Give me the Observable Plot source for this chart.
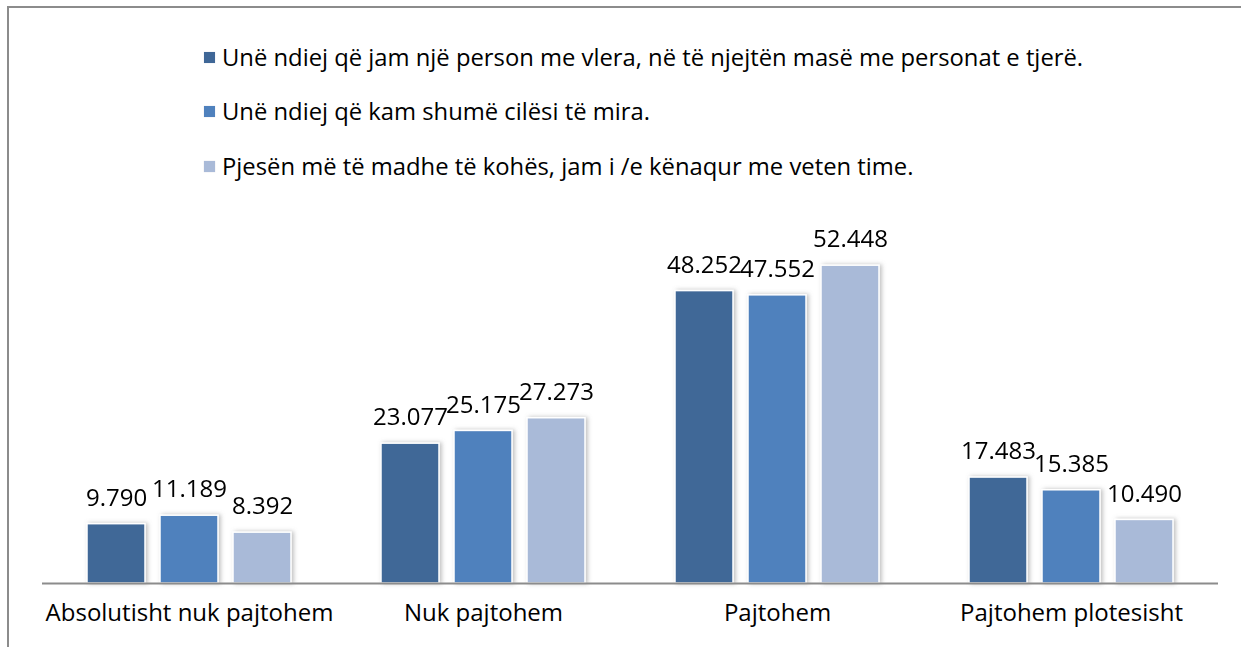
<!DOCTYPE html>
<html>
<head>
<meta charset="utf-8">
<script src="https://cdn.jsdelivr.net/npm/d3@7"></script>
<script src="https://cdn.jsdelivr.net/npm/@observablehq/plot@0.6"></script>
<style>
  body { margin: 0; background: #fff; }
  #wrap { position: relative; width: 1241px; height: 647px; overflow: hidden; font-family: "Open Sans", sans-serif; }
  #frame { position: absolute; left: 7px; top: 6px; width: 1300px; height: 700px; border-top: 2px solid #8c8c8c; border-left: 2px solid #8c8c8c; }
  #legend { position: absolute; left: 204px; top: 0; }
  .item { position: absolute; white-space: nowrap; font-size: 23.8px; color: #000; display: flex; align-items: center; }
  .sw { width: 11px; height: 11px; margin-right: 7px; box-shadow: 0 0 1px #ccd; }
  #chart { position: absolute; left: 0; top: 200px; }
</style>
</head>
<body>
<div id="wrap">
  <div id="frame"></div>
  <div id="legend"></div>
  <div id="chart"></div>
</div>
<script>
const categories = ["Absolutisht nuk pajtohem", "Nuk pajtohem", "Pajtohem", "Pajtohem plotesisht"];
const seriesNames = [
  "Unë ndiej që jam një person me vlera, në të njejtën masë me personat e tjerë.",
  "Unë ndiej që kam shumë cilësi të mira.",
  "Pjesën më të madhe të kohës, jam i /e kënaqur me veten time."
];
const series1 = [9.790, 23.077, 48.252, 17.483];
const series2 = [11.189, 25.175, 47.552, 15.385];
const series3 = [8.392, 27.273, 52.448, 10.490];
const colors = ["#3F6797", "#4F81BD", "#A9BAD8"];

const allSeries = [series1, series2, series3];
const data = [];
categories.forEach((c, i) => {
  allSeries.forEach((s, j) => data.push({category: c, series: seriesNames[j], value: s[i]}));
});

// legend
const legend = document.getElementById("legend");
const legendY = [57, 111, 166];
seriesNames.forEach((name, j) => {
  const d = document.createElement("div");
  d.className = "item";
  d.style.top = (legendY[j] - 15) + "px";
  d.style.height = "30px";
  d.innerHTML = `<span class="sw" style="background:${colors[j]}"></span><span>${name}</span>`;
  legend.appendChild(d);
});

const chart = Plot.plot({
  width: 1241,
  height: 447,
  marginLeft: 42,
  marginRight: 23,
  marginTop: 19.4,
  marginBottom: 64,
  style: {fontFamily: "Open Sans, sans-serif", fontSize: "24px", color: "#000", background: "transparent"},
  fx: {domain: categories, padding: 0, label: null, axis: "bottom", tickSize: 0, tickPadding: 20},
  x: {domain: seriesNames, paddingInner: 0.205, paddingOuter: 0.616, axis: null},
  y: {domain: [0, 60], axis: null},
  color: {domain: seriesNames, range: colors},
  marks: [
    Plot.barY(data, {fx: "category", x: "series", y: "value", fill: "series", stroke: "white", strokeWidth: 1.5}),
    Plot.ruleY([0], {stroke: "#8c8c8c", strokeWidth: 2}),
    Plot.text(data, {fx: "category", x: "series", y: "value", text: d => d.value.toFixed(3), dy: -26, lineAnchor: "middle", fill: "#000", fontSize: 24})
  ]
});
document.getElementById("chart").appendChild(chart);

// soft drop shadow on the bars
const svg = d3.select(chart.tagName.toLowerCase() === "svg" ? chart : chart.querySelector("svg"));
const defs = svg.insert("defs", ":first-child");
const f = defs.append("filter").attr("id", "barShadow").attr("x", "-20%").attr("y", "-20%").attr("width", "140%").attr("height", "140%");
f.append("feDropShadow").attr("dx", 2).attr("dy", 0).attr("stdDeviation", 2).attr("flood-color", "#7f7f7f").attr("flood-opacity", 0.5);
svg.selectAll('g[aria-label="bar"]').attr("filter", "url(#barShadow)");
</script>
</body>
</html>
